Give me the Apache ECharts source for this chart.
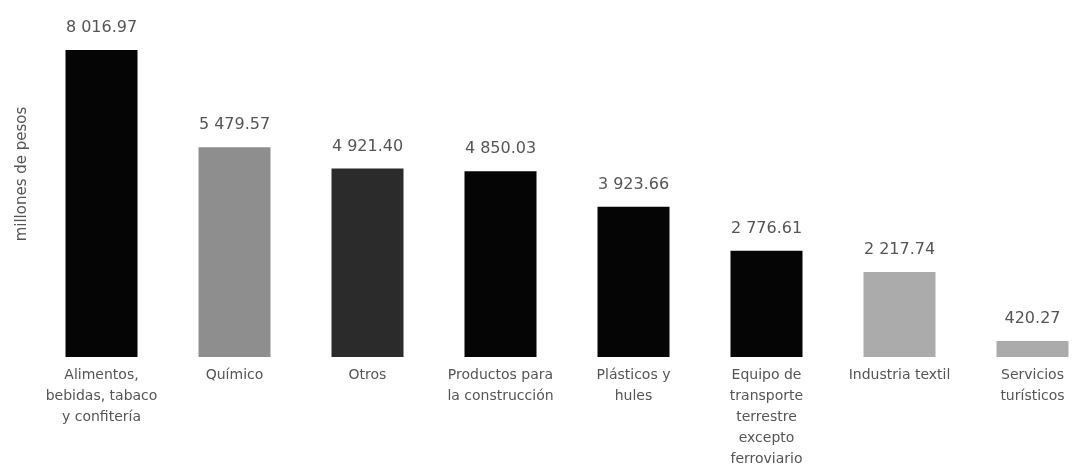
<!DOCTYPE html>
<html>
<head>
<meta charset="utf-8">
<script src="https://cdn.jsdelivr.net/npm/echarts@6/dist/echarts.min.js"></script>
<style>
  html, body { margin: 0; padding: 0; background: #fff; }
  #chart { width: 1073px; height: 464px; }
</style>
</head>
<body>
<div id="chart"></div>
<script>
// categories and values as printed over the bars
const sectors = [
    'Alimentos,\nbebidas, tabaco\ny confitería',
    'Químico',
    'Otros',
    'Productos para\nla construcción',
    'Plásticos y\nhules',
    'Equipo de\ntransporte\nterrestre\nexcepto\nferroviario',
    'Industria textil',
    'Servicios\nturísticos'
];
const amounts = [8016.97, 5479.57, 4921.40, 4850.03, 3923.66, 2776.61, 2217.74, 420.27];
const barColors = ['#050505', '#8e8e8e', '#2b2b2b', '#050505', '#050505', '#050505', '#ababab', '#ababab'];

// "8 016.97" style: space as thousands separator
const fmt = (v) => {
    const parts = v.toFixed(2).split('.');
    return parts[0].replace(/\B(?=(\d{3})+(?!\d))/g, ' ') + '.' + parts[1];
};

const chart = echarts.init(document.getElementById('chart'));

const option = {
    backgroundColor: '#ffffff',
    animation: false,
    grid: {
        left: 35,
        right: -26,
        top: 50,
        bottom: 107,
        containLabel: false,
        outerBoundsMode: 'none'
    },
    graphic: [{
        type: 'text',
        x: 22,
        y: 174,
        rotation: Math.PI / 2,
        style: {
            text: 'millones de pesos',
            fill: '#555',
            font: '15px "DejaVu Sans"',
            align: 'center',
            verticalAlign: 'middle'
        }
    }],
    xAxis: {
        type: 'category',
        data: sectors,
        axisLine: { show: false },
        axisTick: { show: false },
        axisLabel: {
            interval: 0,
            margin: 8,
            color: '#555',
            fontFamily: 'DejaVu Sans',
            fontSize: 14,
            lineHeight: 21
        }
    },
    yAxis: {
        type: 'value',
        min: 0,
        max: 'dataMax',
        show: false
    },
    series: [{
        type: 'bar',
        barWidth: 72,
        data: amounts.map((v, i) => ({ value: v, itemStyle: { color: barColors[i] } })),
        label: {
            show: true,
            position: 'top',
            distance: 14,
            color: '#555',
            fontFamily: 'DejaVu Sans',
            fontSize: 16,
            formatter: (p) => fmt(p.value)
        }
    }]
};

chart.setOption(option);
</script>
</body>
</html>
